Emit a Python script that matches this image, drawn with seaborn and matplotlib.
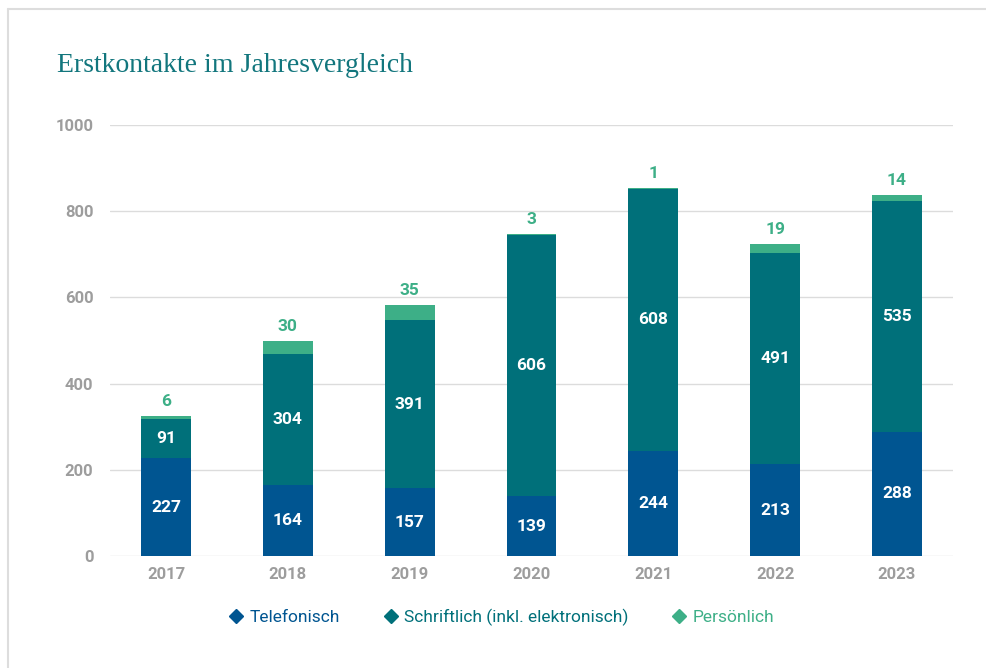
import matplotlib.pyplot as plt
import matplotlib.lines as mlines
import seaborn as sns
import numpy as np

# Daten
years = ["2017", "2018", "2019", "2020", "2021", "2022", "2023"]
telefonisch = [227, 164, 157, 139, 244, 213, 288]
schriftlich = [91, 304, 391, 606, 608, 491, 535]
persoenlich = [6, 30, 35, 3, 1, 19, 14]
series_names = ["Telefonisch", "Schriftlich (inkl. elektronisch)", "Persönlich"]
colors = ["#005591", "#00707a", "#3daf87"]

sns.set_theme(style="white")
plt.rcParams["font.family"] = ["Roboto", "DejaVu Sans"]

fig = plt.figure(figsize=(9.86, 6.68), dpi=100)
ax = fig.add_axes([110 / 986, 1 - 556 / 668, 843 / 986, 431 / 668])

bottom2 = np.array(telefonisch)
bottom3 = bottom2 + np.array(schriftlich)
w = 0.41
sns.barplot(x=years, y=telefonisch, color=colors[0], saturation=1, width=w, errorbar=None,
            linewidth=0, ax=ax)
sns.barplot(x=years, y=schriftlich, bottom=bottom2, color=colors[1], saturation=1, width=w,
            errorbar=None, linewidth=0, ax=ax)
sns.barplot(x=years, y=persoenlich, bottom=bottom3, color=colors[2], saturation=1, width=w,
            errorbar=None, linewidth=0, ax=ax)

# Werte in den Balken
for i in range(len(years)):
    ax.text(i, telefonisch[i] / 2, str(telefonisch[i]), ha="center", va="center",
            color="white", fontsize=12.5, fontweight="bold")
    ax.text(i, bottom2[i] + schriftlich[i] / 2, str(schriftlich[i]), ha="center", va="center",
            color="white", fontsize=12.5, fontweight="bold")
    ax.annotate(str(persoenlich[i]), (i, bottom3[i] + persoenlich[i]), xytext=(0, 5),
                textcoords="offset points", ha="center", va="bottom",
                color=colors[2], fontsize=12.5, fontweight="bold")

ax.set_xlim(-0.46, 6.46)
ax.set_ylim(0, 1000)
ax.set_yticks([0, 200, 400, 600, 800, 1000])
ax.yaxis.grid(True, color="#dcdcdc", linewidth=1)
ax.set_axisbelow(True)
sns.despine(ax=ax, left=True, bottom=True)
ax.tick_params(axis="y", length=0, pad=12, labelsize=12, labelcolor="#9d9d9d")
ax.tick_params(axis="x", length=0, pad=8, labelsize=12, labelcolor="#9d9d9d")
for lab in ax.get_xticklabels() + ax.get_yticklabels():
    lab.set_fontweight("bold")
ax.set_xlabel("")
ax.set_ylabel("")

# Titel
fig.text(57 / 986, 1 - 65 / 668, "Erstkontakte im Jahresvergleich", color="#12767d",
         family=["Liberation Serif", "DejaVu Serif"], fontsize=20, va="center", ha="left")

# Legende
handles = [mlines.Line2D([], [], marker="D", linestyle="none", color=c, markersize=7) for c in colors]
fig.legend(handles, series_names, loc="center", bbox_to_anchor=(502 / 986, 1 - 617 / 668),
           ncol=3, frameon=False, labelcolor=colors, fontsize=12.5,
           handlelength=0.7, handletextpad=0.4, columnspacing=2.6)

# Rahmen oben und links
fig.add_artist(mlines.Line2D([8 / 986, 8 / 986], [0, 1 - 9 / 668], color="#dddddd", lw=1.5))
fig.add_artist(mlines.Line2D([8 / 986, 1], [1 - 9 / 668, 1 - 9 / 668], color="#dddddd", lw=1.5))

fig.savefig("out.png", dpi=100)
